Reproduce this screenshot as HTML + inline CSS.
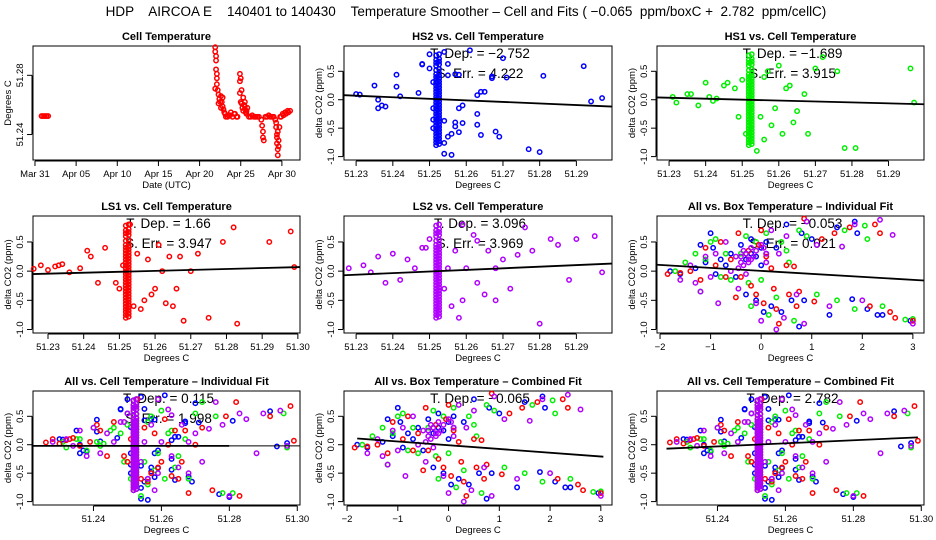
<!DOCTYPE html>
<html><head><meta charset="utf-8">
<style>
html,body{margin:0;padding:0;background:#fff;}
svg{display:block;font-family:"Liberation Sans",Arial,sans-serif;}
</style></head>
<body>
<svg id="chart" width="936" height="540" viewBox="0 0 936 540" xmlns="http://www.w3.org/2000/svg">
<rect x="0" y="0" width="936" height="540" fill="#fff"/>
<text x="466" y="16" text-anchor="middle" font-size="13.5" xml:space="preserve">HDP    AIRCOA E    140401 to 140430    Temperature Smoother – Cell and Fits ( −0.065  ppm/boxC +  2.782  ppm/cellC)</text>
</svg>
<script>
// ---------- data ----------
const timeDays = [0.8,1.0,1.2,1.4,1.6,21.9,21.9,22.0,22.0,22.0,22.1,22.1,21.9,22.1,22.2,22.3,22.4,22.3,22.5,22.6,22.6,22.8,22.8,23.0,23.2,23.5,23.8,24.0,24.3,24.6,24.9,25.0,24.9,24.9,25.0,25.2,25.3,25.5,25.6,25.8,26.0,26.4,26.8,27.2,27.5,27.6,27.7,27.7,27.8,28.0,28.4,28.8,29.2,29.3,29.4,29.4,29.5,29.5,29.6,29.7,29.8,30.1,30.4,30.7,31.0,23.1,23.4,23.7,24.2,24.5,25.1,25.4,25.7,26.2,26.6,27.0,28.2,28.6,29.0,29.9,30.2,30.5,30.8,22.7,22.9,25.1,25.3,25.5,25.7,29.3,29.5,29.4,29.6];
const timeTemps = [51.2525,51.2525,51.2525,51.2525,51.2525,51.299,51.296,51.293,51.290,51.284,51.281,51.278,51.271,51.274,51.270,51.267,51.264,51.261,51.262,51.258,51.266,51.265,51.259,51.255,51.252,51.253,51.255,51.252,51.254,51.252,51.281,51.278,51.276,51.268,51.262,51.258,51.265,51.262,51.255,51.258,51.252,51.253,51.252,51.252,51.250,51.246,51.242,51.238,51.236,51.252,51.253,51.252,51.250,51.245,51.240,51.234,51.230,51.226,51.236,51.245,51.252,51.254,51.255,51.256,51.256,51.254,51.252,51.253,51.254,51.252,51.261,51.260,51.256,51.252,51.252,51.252,51.252,51.252,51.252,51.252,51.253,51.254,51.255,51.262,51.257,51.270,51.256,51.259,51.254,51.248,51.242,51.238,51.232];
const timeTickVals = [0,5,10,15,20,25,30];
const timeTickLabels = ["Mar 31","Apr 05","Apr 10","Apr 15","Apr 20","Apr 25","Apr 30"];

const stackY = [0.78,0.7,0.65,0.6,0.52,0.45,0.4,0.35,0.3,0.25,0.2,0.15,0.1,0.05,0,-0.05,-0.1,-0.15,-0.2,-0.25,-0.3,-0.35,-0.4,-0.45,-0.5,-0.55,-0.6,-0.65,-0.7,-0.75,-0.8];

const hs2Cell = [51.230,51.231,51.235,51.236,51.236,51.237,51.238,51.241,51.241,51.242,51.247,51.248,51.248,51.250,51.250,51.251,51.251,51.251,51.251,51.254,51.254,51.254,51.254,51.255,51.255,51.255,51.256,51.256,51.257,51.257,51.257,51.258,51.258,51.258,51.259,51.259,51.261,51.263,51.263,51.263,51.264,51.264,51.265,51.267,51.267,51.268,51.269,51.270,51.271,51.277,51.280,51.281,51.292,51.294,51.297];
const hs2Co2 = [0.10,0.09,0.25,0.0,-0.15,-0.10,-0.12,0.44,0.23,0.06,0.12,0.62,0.63,0.80,0.55,0.31,-0.15,-0.35,-0.5,0.84,-0.37,-0.76,-0.95,0.63,0.43,-0.65,-0.97,-0.6,0.45,-0.4,-0.47,0.44,-0.15,-0.57,-0.1,-0.41,0.87,0.08,-0.25,-0.44,0.14,-0.62,0.14,0.38,0.41,-0.56,-0.65,0.73,0.39,-0.87,-0.92,0.42,0.59,-0.03,0.03];

const hs1Cell = [51.231,51.232,51.235,51.236,51.238,51.240,51.241,51.242,51.243,51.245,51.246,51.248,51.249,51.250,51.251,51.254,51.255,51.256,51.256,51.257,51.258,51.259,51.260,51.261,51.262,51.263,51.264,51.265,51.267,51.268,51.270,51.272,51.276,51.278,51.281,51.296,51.297];
const hs1Co2 = [0.05,-0.05,0.1,0.1,-0.1,0.3,0.05,-0.02,0.02,0.25,0.3,0.2,-0.3,0.35,-0.6,-0.9,-0.3,0.4,-0.7,0.5,-0.45,-0.15,0.6,-0.6,0.2,0.25,-0.4,-0.2,0.1,-0.6,0.55,0.75,0.5,-0.85,-0.85,0.55,-0.05];

const ls1Cell = [51.226,51.228,51.230,51.232,51.233,51.234,51.236,51.239,51.241,51.242,51.244,51.246,51.249,51.250,51.251,51.253,51.254,51.255,51.256,51.257,51.258,51.259,51.260,51.261,51.262,51.263,51.264,51.265,51.266,51.267,51.268,51.270,51.272,51.275,51.279,51.282,51.283,51.292,51.298,51.299];
const ls1Co2 = [0.04,0.1,0.02,0.08,0.1,0.12,-0.02,0.05,0.35,0.25,-0.2,0.4,-0.2,-0.3,0.1,0.8,-0.6,0.3,-0.65,-0.5,0.2,-0.4,-0.3,0.45,0.0,-0.55,0.25,-0.6,-0.3,0.25,-0.85,0.0,0.3,-0.8,0.5,0.75,-0.9,0.5,0.68,0.07];

const ls2Cell = [51.228,51.232,51.234,51.236,51.238,51.240,51.242,51.244,51.246,51.248,51.249,51.250,51.254,51.255,51.256,51.257,51.258,51.259,51.259,51.260,51.262,51.263,51.263,51.265,51.266,51.268,51.268,51.270,51.272,51.274,51.276,51.278,51.280,51.283,51.285,51.288,51.290,51.295,51.297];
const ls2Co2 = [0.05,0.1,-0.02,0.25,-0.2,0.3,-0.15,0.2,0.05,0.4,0.4,0.55,-0.3,0.05,-0.6,0.35,-0.8,-0.5,0.8,0.05,0.62,-0.2,0.52,-0.4,0.35,0.05,-0.5,0.2,-0.3,0.28,0.75,0.35,-0.9,0.55,0.45,-0.15,0.55,0.6,-0.02];

const hs2Box = [-1.8,-1.6,-1.3,-1.2,-1.1,-1,-0.95,-0.9,-0.8,-0.7,-0.6,-0.5,-0.4,-0.3,-0.3,-0.2,-0.1,0,0.05,0.1,0.2,0.3,0.4,0.5,0.6,0.75,0.8,0.85,1.0,1.35,1.5,1.8,1.85,1.9,2.1,2.3,2.4,2.95,-0.2,-0.1,0.0,0.1];
const hs2BoxCo2 = [0.0,-0.05,0.05,0.45,0.15,0.65,0.4,-0.05,0.2,0.1,0.3,-0.1,0.45,0.2,-0.4,0.55,-0.5,0.1,-0.7,0.3,-0.6,0.4,-0.7,0.8,-0.5,-0.95,0.65,-0.5,0.55,-0.75,0.75,-0.48,0.85,0.65,-0.65,-0.75,-0.75,-0.85,0.3,0.25,0.4,0.5];
const ls1Box = [-1.85,-1.6,-1.4,-1.2,-1.1,-0.9,-0.8,-0.7,-0.6,-0.5,-0.45,-0.4,-0.3,-0.2,-0.1,0,0.05,0.2,0.25,0.3,0.35,0.5,0.55,0.65,0.7,0.75,0.85,1.05,1.2,1.45,1.75,2.15,2.25,2.35,2.55,2.65,3.0,-0.25,-0.05,0.1];
const ls1BoxCo2 = [-0.05,-0.03,0.0,-0.15,0.4,0.1,0.5,-0.1,0.2,-0.45,0.65,-0.1,0.3,-0.25,-0.4,0.7,-0.55,0.05,-0.3,-0.65,-0.9,0.1,-0.4,0.08,-0.6,-0.35,0.9,-0.52,0.55,0.65,0.75,-0.6,0.8,0.65,-0.7,-0.8,-0.85,0.35,0.45,0.25];
const hs1Box = [-1.7,-1.5,-1.3,-1.2,-1.1,-1.0,-0.9,-0.8,-0.7,-0.6,-0.4,-0.3,-0.25,-0.2,-0.1,0,0.1,0.15,0.3,0.4,0.5,0.55,0.65,0.75,0.9,1.1,1.5,1.65,1.85,2.05,2.1,2.4,2.85,3.0];
const hs1BoxCo2 = [0.0,0.15,0.3,-0.35,0.2,0.5,0.55,-0.1,0.3,-0.15,0.3,0.6,-0.2,-0.6,0.5,-0.15,0.65,-0.75,-0.45,0.5,0.35,0.15,-0.85,0.7,0.6,-0.4,-0.5,0.7,-0.65,0.78,0.55,-0.6,-0.83,-0.82];
const ls2Box = [-1.6,-1.4,-1.3,-1.2,-1.1,-1,-0.9,-0.85,-0.7,-0.6,-0.5,-0.45,-0.4,-0.35,-0.3,-0.25,-0.2,-0.1,0,0.1,0.2,0.3,0.35,0.45,0.5,0.7,0.85,0.9,1.1,1.35,1.6,1.85,2.0,2.35,2.6,3.0,-0.4,-0.3,-0.2,-0.1,0.0,0.1,-0.35,-0.15,0.05,-0.45,-0.25];
const ls2BoxCo2 = [-0.15,0.1,-0.2,-0.35,0.25,-0.1,0.3,-0.55,0.5,0.0,0.25,-0.3,0.15,0.35,-0.05,0.2,0.4,-0.55,-0.85,0.15,0.7,-1.0,0.3,-0.8,0.6,-0.4,-0.9,0.85,0.45,-0.6,0.42,0.8,-0.5,0.88,0.62,-0.9,0.25,0.3,0.2,0.35,0.45,0.3,0.1,0.25,0.4,0.05,0.15];

const cellTicksA = [51.23,51.24,51.25,51.26,51.27,51.28,51.29];
const cellTicksB = [51.23,51.24,51.25,51.26,51.27,51.28,51.29,51.30];
const cellTicksC = [51.24,51.26,51.28,51.30];
const boxTicks = [-2,-1,0,1,2,3];
const co2Ticks = [-1.0,-0.5,0.0,0.5];
const tempTicks = [51.24,51.28];

const fitLines = {
  hs2:[51.2267,0.08,51.2997,-0.12], hs1:[51.2267,0.04,51.2997,-0.08],
  ls1:[51.2258,-0.05,51.3006,0.07], ls2:[51.2267,-0.07,51.2997,0.13],
  boxInd:[-2.06,0.11,3.22,-0.16], cellInd:[51.2222,-0.02,51.2800,-0.02],
  boxComb:[-1.8,0.11,3.05,-0.21], cellComb:[51.2250,-0.07,51.2990,0.13]
};

const BLUE="#0000ff", GREEN="#00ee00", RED="#ff0000", PURPLE="#b000ff";
const svg=document.getElementById('chart');
const NS="http://www.w3.org/2000/svg";
function mk(tag,attrs,parent){const e=document.createElementNS(NS,tag);for(const k in attrs)e.setAttribute(k,attrs[k]);(parent||svg).appendChild(e);return e;}

function panel(cfg){
  const g=mk('g',{});
  
  
  const [x0,x1]=cfg.px, [y0,y1]=cfg.py;
  const sx=v=>x0+(v-cfg.xd[0])/(cfg.xd[1]-cfg.xd[0])*(x1-x0);
  const sy=v=>y1-(v-cfg.yd[0])/(cfg.yd[1]-cfg.yd[0])*(y1-y0);
  const box=mk('rect',{x:x0,y:y0,width:x1-x0,height:y1-y0,fill:'none',stroke:'#000','stroke-width':1},g);
  
  
  const t=mk('text',{x:(x0+x1)/2,y:y0-6,'text-anchor':'middle','font-size':11,'font-weight':'bold'},g);
  t.textContent=cfg.title;
  
  
  const xt=cfg.xticks, xl=cfg.xlabels||xt.map(v=>String(v));
  mk('line',{x1:sx(xt[0]),x2:sx(xt[xt.length-1]),y1:y1+1,y2:y1+1,stroke:'#000'},g);
  xt.forEach((v,i)=>{
    mk('line',{x1:sx(v),x2:sx(v),y1:y1+1,y2:y1+6,stroke:'#000'},g);
    const l=mk('text',{x:sx(v),y:y1+17,'text-anchor':'middle','font-size':9.5},g);
    l.textContent=xl[i];
    
    
  });
  const xa=mk('text',{x:(x0+x1)/2,y:y1+28,'text-anchor':'middle','font-size':9.5},g);
  xa.textContent=cfg.xtitle;
  
  
  const yt=cfg.yticks;
  mk('line',{x1:x0-1,x2:x0-1,y1:sy(yt[0]),y2:sy(yt[yt.length-1]),stroke:'#000'},g);
  yt.forEach(v=>{
    mk('line',{x1:x0-6,x2:x0-1,y1:sy(v),y2:sy(v),stroke:'#000'},g);
    const l=mk('text',{x:x0-10,y:sy(v),'text-anchor':'middle','font-size':9.5,transform:`rotate(-90 ${x0-10} ${sy(v)})`},g);
    l.textContent=cfg.yfmt(v);
    
    
  });
  const ya=mk('text',{x:x0-22,y:(y0+y1)/2,'text-anchor':'middle','font-size':9.5,transform:`rotate(-90 ${x0-22} ${(y0+y1)/2})`},g);
  ya.textContent=cfg.ytitle;
  
  
  (cfg.stats||[]).forEach((s,i)=>{
    const st=mk('text',{x:(x0+x1)/2+2,y:y0+12+i*20,'text-anchor':'middle','font-size':13.5},g);
    st.textContent=s;
    
    
  });
  const cg=mk('g',{},g);
  cfg.series.forEach(s=>{
    s.x.forEach((xv,i)=>{
      const c=mk('circle',{cx:sx(xv),cy:sy(s.y[i]),r:2.2,fill:'none',stroke:s.color,'stroke-width':1.5},cg);
      
      
    });
  });
  if(cfg.fit){
    const f=cfg.fit;
    const ln=mk('line',{x1:sx(f[0]),y1:sy(f[1]),x2:sx(f[2]),y2:sy(f[3]),stroke:'#000','stroke-width':1.8},g);
    
    
    if(cfg.fitExtend){
      const l2=mk('line',{x1:sx(f[2]),y1:sy(f[3]),x2:x1,y2:sy(f[3]),stroke:'#000','stroke-width':1},g);
      
      
    }
  }
}

function withStack(xs,ys){
  const sX=xs.slice(), sY=ys.slice();
  stackY.forEach(v=>{sX.push(51.2518);sY.push(v);sX.push(51.2526);sY.push(v+0.02);});
  return {x:sX,y:sY};
}
const hs2=withStack(hs2Cell,hs2Co2), hs1=withStack(hs1Cell,hs1Co2), ls1=withStack(ls1Cell,ls1Co2), ls2=withStack(ls2Cell,ls2Co2);

const cols=[[33,300],[344,612],[657,924]], rows=[[46,160],[216,333],[391,505]];
const YD=[-1.06,0.945];
const fmt1=v=>v.toFixed(1), fmt2=v=>v.toFixed(2);
const cellDA=[51.2267,51.2997], cellDB=[51.2258,51.3006], cellDC=[51.2222,51.3008], boxD=[-2.06,3.22];
const dco="delta CO2 (ppm)";

panel({name:'cell-temperature-panel',title:'Cell Temperature',px:cols[0],py:rows[0],xd:[-0.24,32.2],yd:[51.2228,51.2998],
  xticks:timeTickVals,xlabels:timeTickLabels,xtitle:'Date (UTC)',yticks:tempTicks,yfmt:fmt2,ytitle:'Degrees C',
  series:[{x:timeDays,y:timeTemps,color:RED}]});
panel({name:'hs2-panel',title:'HS2 vs. Cell Temperature',px:cols[1],py:rows[0],xd:cellDA,yd:YD,xticks:cellTicksA,xlabels:cellTicksA.map(fmt2),
  xtitle:'Degrees C',yticks:co2Ticks,yfmt:fmt1,ytitle:dco,stats:['T. Dep. =  −2.752','S. Err. = 4.222'],series:[{x:hs2.x,y:hs2.y,color:BLUE}],fit:fitLines.hs2});
panel({name:'hs1-panel',title:'HS1 vs. Cell Temperature',px:cols[2],py:rows[0],xd:cellDA,yd:YD,xticks:cellTicksA,xlabels:cellTicksA.map(fmt2),
  xtitle:'Degrees C',yticks:co2Ticks,yfmt:fmt1,ytitle:dco,stats:['T. Dep. =  −1.689','S. Err. = 3.915'],series:[{x:hs1.x,y:hs1.y,color:GREEN}],fit:fitLines.hs1});
panel({name:'ls1-panel',title:'LS1 vs. Cell Temperature',px:cols[0],py:rows[1],xd:cellDB,yd:YD,xticks:cellTicksB,xlabels:cellTicksB.map(fmt2),
  xtitle:'Degrees C',yticks:co2Ticks,yfmt:fmt1,ytitle:dco,stats:['T. Dep. =  1.66','S. Err. = 3.947'],series:[{x:ls1.x,y:ls1.y,color:RED}],fit:fitLines.ls1});
panel({name:'ls2-panel',title:'LS2 vs. Cell Temperature',px:cols[1],py:rows[1],xd:cellDA,yd:YD,xticks:cellTicksA,xlabels:cellTicksA.map(fmt2),
  xtitle:'Degrees C',yticks:co2Ticks,yfmt:fmt1,ytitle:dco,stats:['T. Dep. =  3.096','S. Err. = 3.969'],series:[{x:ls2.x,y:ls2.y,color:PURPLE}],fit:fitLines.ls2});
const boxSeries=[{x:hs2Box,y:hs2BoxCo2,color:BLUE},{x:hs1Box,y:hs1BoxCo2,color:GREEN},{x:ls1Box,y:ls1BoxCo2,color:RED},{x:ls2Box,y:ls2BoxCo2,color:PURPLE}];
const cellSeries=[{x:hs2.x,y:hs2.y,color:BLUE},{x:hs1.x,y:hs1.y,color:GREEN},{x:ls1.x,y:ls1.y,color:RED},{x:ls2.x,y:ls2.y,color:PURPLE}];
panel({name:'all-box-individual-panel',title:'All vs. Box Temperature – Individual Fit',px:cols[2],py:rows[1],xd:boxD,yd:YD,xticks:boxTicks,xlabels:boxTicks.map(v=>v<0?'−'+(-v):String(v)),
  xtitle:'Degrees C',yticks:co2Ticks,yfmt:fmt1,ytitle:dco,stats:['T. Dep. = −0.053','S. Err. = 0.021'],series:boxSeries,fit:fitLines.boxInd});
panel({name:'all-cell-individual-panel',title:'All vs. Cell Temperature – Individual Fit',px:cols[0],py:rows[2],xd:cellDC,yd:YD,xticks:cellTicksC,xlabels:cellTicksC.map(fmt2),
  xtitle:'Degrees C',yticks:co2Ticks,yfmt:fmt1,ytitle:'delta CO2 (ppm)',stats:['T. Dep. =  0.115','S. Err. = 1.998'],series:cellSeries,fit:fitLines.cellInd,fitExtend:true});
panel({name:'all-box-combined-panel',title:'All vs. Box Temperature – Combined Fit',px:cols[1],py:rows[2],xd:boxD,yd:YD,xticks:boxTicks,xlabels:boxTicks.map(v=>v<0?'−'+(-v):String(v)),
  xtitle:'Degrees C',yticks:co2Ticks,yfmt:fmt1,ytitle:dco,stats:['T. Dep. = −0.065'],series:boxSeries,fit:fitLines.boxComb});
panel({name:'all-cell-combined-panel',title:'All vs. Cell Temperature – Combined Fit',px:cols[2],py:rows[2],xd:cellDC,yd:YD,xticks:cellTicksC,xlabels:cellTicksC.map(fmt2),
  xtitle:'Degrees C',yticks:co2Ticks,yfmt:fmt1,ytitle:dco,stats:['T. Dep. =  2.782'],series:cellSeries,fit:fitLines.cellComb});
</script>
</body></html>
